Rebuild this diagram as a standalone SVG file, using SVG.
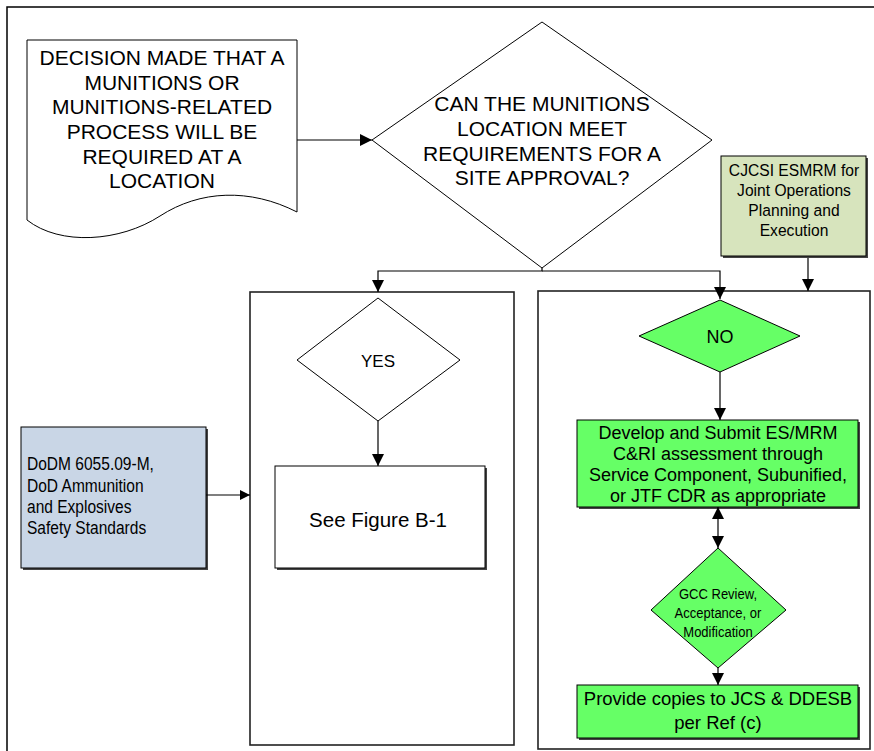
<svg xmlns="http://www.w3.org/2000/svg" width="874" height="751" viewBox="0 0 874 751">
<defs>
<marker id="ah" viewBox="0 0 10 10" refX="10" refY="5" markerWidth="10" markerHeight="10" markerUnits="userSpaceOnUse" orient="auto-start-reverse">
<path d="M0,0 L10,5 L0,10 z" fill="#000"/>
</marker>
<marker id="ahb" viewBox="0 0 12 12" refX="12" refY="6" markerWidth="12" markerHeight="12" markerUnits="userSpaceOnUse" orient="auto-start-reverse">
<path d="M0,0 L12,6 L0,12 z" fill="#000"/>
</marker>
</defs>
<style>
text{font-family:"Liberation Sans",Arial,sans-serif;fill:#000;text-anchor:middle}
text.l{text-anchor:start}
.ln{fill:none;stroke:#000;stroke-width:1.2}
.sh{fill:#444;stroke:none}
.box{stroke:#000;stroke-width:1}
.cont{fill:#fff;stroke:#222;stroke-width:1.6}
.green{fill:#66ff66}
</style>
<rect x="0" y="0" width="874" height="751" fill="#fff"/>
<rect x="7" y="7" width="880" height="760" fill="none" stroke="#000" stroke-width="1.5"/>

<g id="decision">
<path d="M27,40 H297 V212 C250,188 200,190 160,216 C120,242 60,246 27,220 Z" fill="#fff" stroke="#000" stroke-width="1"/>
<g font-size="21">
<text x="162" y="65">DECISION MADE THAT A</text>
<text x="162" y="90">MUNITIONS OR</text>
<text x="162" y="114">MUNITIONS-RELATED</text>
<text x="162" y="139">PROCESS WILL BE</text>
<text x="162" y="164">REQUIRED AT A</text>
<text x="162" y="188">LOCATION</text>
</g>
</g>

<g id="question">
<polygon points="372,140 542,22 712,140 542,268" fill="#fff" stroke="#000" stroke-width="1"/>
<g font-size="21">
<text x="542" y="111">CAN THE MUNITIONS</text>
<text x="542" y="136">LOCATION MEET</text>
<text x="542" y="161">REQUIREMENTS FOR A</text>
<text x="542" y="185">SITE APPROVAL?</text>
</g>
</g>

<g id="cjcsi">
<rect x="723" y="158" width="145" height="100" class="sh"/>
<rect x="721" y="156" width="145" height="100" fill="#d7e4bd" class="box"/>
<g font-size="17" transform="translate(794,0) scale(0.92,1)">
<text x="0" y="176">CJCSI ESMRM for</text>
<text x="0" y="196">Joint Operations</text>
<text x="0" y="216">Planning and</text>
<text x="0" y="236">Execution</text>
</g>
</g>

<g id="yes-container">
<rect x="250" y="292" width="264" height="453" class="cont"/>
</g>

<g id="no-container">
<rect x="538" y="291" width="332" height="458" class="cont"/>
</g>

<g id="yes">
<polygon points="297,360 378,298 460,360 378,421" fill="#fff" stroke="#000" stroke-width="1"/>
<text x="378" y="367" font-size="17">YES</text>
</g>

<g id="see-figure">
<rect x="277" y="468" width="210" height="102" class="sh"/>
<rect x="275" y="466" width="210" height="102" fill="#fff" class="box"/>
<text x="378" y="527" font-size="20.5">See Figure B-1</text>
</g>

<g id="dodm">
<rect x="23" y="429" width="185" height="141" class="sh"/>
<rect x="21" y="427" width="185" height="141" fill="#c9d6e6" class="box"/>
<g font-size="18.5" transform="translate(27,0) scale(0.84,1)">
<text class="l" x="0" y="470">DoDM 6055.09-M,</text>
<text class="l" x="0" y="492">DoD Ammunition</text>
<text class="l" x="0" y="513">and Explosives</text>
<text class="l" x="0" y="534">Safety Standards</text>
</g>
</g>

<g id="no">
<polygon points="639,336 720,300 800,336 720,372" class="green" stroke="#000" stroke-width="1"/>
<text x="720" y="343" font-size="18">NO</text>
</g>

<g id="develop">
<rect x="579" y="422" width="281" height="87" class="sh"/>
<rect x="577" y="420" width="281" height="87" class="green box"/>
<g font-size="18">
<text x="718" y="439">Develop and Submit ES/MRM</text>
<text x="718" y="460">C&amp;RI assessment through</text>
<text x="718" y="481">Service Component, Subunified,</text>
<text x="718" y="502">or JTF CDR as appropriate</text>
</g>
</g>

<g id="gcc">
<polygon points="651,610 718,548 786,610 718,668" class="green" stroke="#000" stroke-width="1"/>
<g font-size="15.5" transform="translate(718,0) scale(0.84,1)">
<text x="0" y="599">GCC Review,</text>
<text x="0" y="618">Acceptance, or</text>
<text x="0" y="637">Modification</text>
</g>
</g>

<g id="provide">
<rect x="579" y="687" width="281" height="53" class="sh"/>
<rect x="577" y="685" width="281" height="53" class="green box"/>
<g font-size="18.5">
<text x="718" y="705">Provide copies to JCS &amp; DDESB</text>
<text x="718" y="729">per Ref (c)</text>
</g>
</g>

<g id="connectors">
<path class="ln" d="M297,140 H372" marker-end="url(#ahb)"/>
<path class="ln" d="M542,268 V271 H378 V292" marker-end="url(#ahb)"/>
<path class="ln" d="M542,271 H720 V299" marker-end="url(#ahb)"/>
<path class="ln" d="M808,258 V291" marker-end="url(#ahb)"/>
<path class="ln" d="M378,421 V466" marker-end="url(#ahb)"/>
<path class="ln" d="M206,495 H250" marker-end="url(#ah)"/>
<path class="ln" d="M720,372 V420" marker-end="url(#ahb)"/>
<path class="ln" d="M718,507 V548" marker-start="url(#ahb)" marker-end="url(#ahb)"/>
<path class="ln" d="M718,668 V685" marker-end="url(#ahb)"/>
</g>
</svg>
